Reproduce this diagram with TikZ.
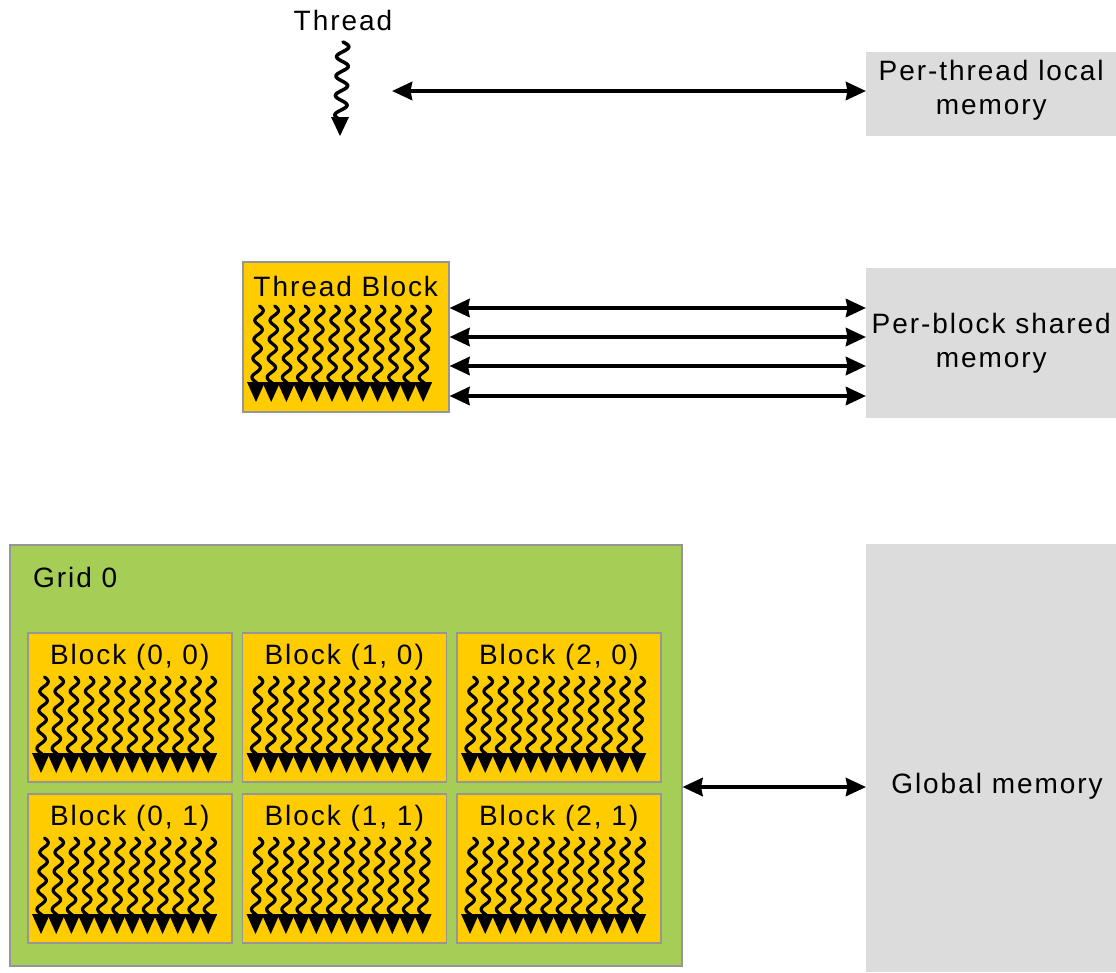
\documentclass[tikz,border=0pt]{standalone}
\usepackage{fontspec}
\setmainfont{Liberation Sans}[LetterSpace=7]
\usetikzlibrary{arrows.meta}

\definecolor{memgray}{RGB}{220,220,220}
\definecolor{gold}{RGB}{255,204,0}
\definecolor{gridgreen}{RGB}{166,206,87}
\definecolor{edgegray}{RGB}{150,150,150}

\tikzset{
  lbl/.style={font=\fontsize{28}{34}\selectfont, text=black, inner sep=0pt},
  membox/.style={fill=memgray, draw=none, anchor=north west, inner sep=0pt},
  blockbox/.style={fill=gold, draw=edgegray, line width=1.5pt, anchor=north west,
                   inner sep=0pt, minimum width=204pt, minimum height=149pt},
  gridbox/.style={fill=gridgreen, draw=edgegray, line width=1.5pt, anchor=north west, inner sep=0pt},
  wave/.style={line width=3.2pt, line join=round, line cap=round},
  link/.style={line width=4.2pt,
    {Stealth[length=20pt,width=18pt,inset=1.5pt]}-{Stealth[length=20pt,width=18pt,inset=1.5pt]}},
  % twelve wavy threads with their arrow heads, origin at the box's top-left corner
  threadrow/.pic={
    \foreach \i in {0,...,11}{
      \draw[wave] plot[domain=0:78, samples=70, smooth]
        ({17.5+15.2*\i - 0.05*\x + 4.0*sin(\x*18.95)}, {45+\x});
      \fill ({5+15.2*\i},121) -- ({23+15.2*\i},121) -- ({14+15.2*\i},141) -- cycle;
    }
  }
}

\begin{document}
\begin{tikzpicture}[x=1pt, y=-1pt]
\useasboundingbox (0,0) rectangle (1116,972);

% ---- single thread and its local memory ----
\node[lbl] (thrlbl) at (343,20) {Thread};
\draw[wave, line width=3.5pt] plot[domain=0:78, samples=80, smooth]
  ({343 - 0.03*\x + 6*sin(\x*18.5)}, {42+\x});
\fill (331,117) -- (349,117) -- (340,136) -- cycle;

\node[membox, minimum width=250pt, minimum height=84pt] (ptm) at (866,52) {};
\node[lbl, align=center] (ptmlbl) at ([yshift=4pt]ptm.center) {Per-thread local\\memory};
\coordinate (thr) at (392,91);
\draw[link] (thr) -- (ptm.west |- thr);

% ---- thread block and its shared memory ----
\node[blockbox, minimum width=206pt, minimum height=150pt] (tb) at (242,261) {};
\node[lbl] (tblbl) at ([yshift=-25pt]tb.north) {Thread Block};
\pic at (tb.north west) {threadrow};

\node[membox, minimum width=250pt, minimum height=150pt] (psm) at (866,268) {};
\node[lbl, align=center] (psmlbl) at (psm.center) {Per-block shared\\memory};
\foreach \yy in {308,337,366,396}
  \draw[link] (tb.east |- 0,\yy) -- (psm.west |- 0,\yy);

% ---- grid of blocks and global memory ----
\node[gridbox, minimum width=672pt, minimum height=421pt] (grid) at (9,544) {};
\node[lbl, anchor=west] (gridlbl) at (33,577) {Grid 0};

\foreach \c in {0,1,2}{
  \foreach \r in {0,1}{
    \node[blockbox] (b\c\r) at ({27+214.5*\c},{632+161*\r}) {};
    \node[lbl] (b\c\r lbl) at ([yshift=-25pt]b\c\r.north) {Block (\c, \r)};
    \pic at (b\c\r.north west) {threadrow};
  }
}

\node[membox, minimum width=250pt, minimum height=428pt] (gm) at (866,544) {};
\node[lbl] (gmlbl) at (997,786) {Global memory};
\draw[link] (grid.east |- 0,787) -- (gm.west |- 0,787);
\end{tikzpicture}
\end{document}
